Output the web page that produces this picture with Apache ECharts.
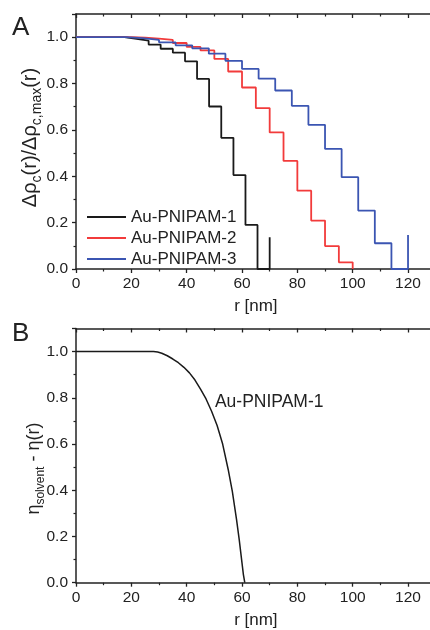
<!DOCTYPE html>
<html>
<head>
<meta charset="utf-8">
<script src="https://cdn.jsdelivr.net/npm/echarts@6/dist/echarts.min.js"></script>
<style>
  html, body { margin: 0; padding: 0; background: #fff; }
  #main { width: 430px; height: 630px; }
</style>
</head>
<body>
<div id="main"></div>
<script>
// panel A: step profiles, r [nm] where each step starts
var r1 = [0, 17.5, 21.9, 26.25, 30.6, 35, 39.4, 43.75, 48.1, 52.5, 56.9, 61.25, 65.6, 70];
var rho1 = [1.0, 0.993, 0.985, 0.968, 0.950, 0.933, 0.896, 0.820, 0.701, 0.566, 0.405, 0.190, 0, 0.137];

var r2 = [0, 20, 25, 30, 35, 40, 45, 50, 55, 60, 65, 70, 75, 80, 85, 90, 95, 100];
var rho2 = [1.0, 0.998, 0.994, 0.988, 0.975, 0.958, 0.943, 0.906, 0.852, 0.783, 0.694, 0.589, 0.466, 0.338, 0.209, 0.099, 0.029, 0];

var r3 = [0, 18, 24, 30, 36, 42, 48, 54, 60, 66, 72, 78, 84, 90, 96, 102, 108, 114, 120];
var rho3 = [1.0, 0.996, 0.988, 0.978, 0.965, 0.952, 0.929, 0.898, 0.863, 0.821, 0.770, 0.704, 0.622, 0.518, 0.396, 0.252, 0.111, 0, 0.147];

var seriesNames = ['Au-PNIPAM-1', 'Au-PNIPAM-2', 'Au-PNIPAM-3'];
var seriesColors = ['#1a1a1a', '#f23b3b', '#3b55b2'];

// panel B: smooth profile
var rB = [0, 28, 29.5, 31, 33, 35, 37, 39, 41, 43, 45, 47, 49, 51, 53, 55, 56.5, 58, 59, 60, 60.5, 61];
var etaB = [1.0, 1.0, 0.998, 0.993, 0.982, 0.968, 0.952, 0.932, 0.908, 0.877, 0.838, 0.795, 0.742, 0.680, 0.600, 0.490, 0.395, 0.275, 0.185, 0.085, 0.035, 0];

function zip(xs, ys) {
  var out = [];
  for (var i = 0; i < xs.length; i++) out.push([xs[i], ys[i]]);
  return out;
}

var font = 'Liberation Sans, Arial, sans-serif';
var ink = '#222';

function xAx(grid, top) {
  return {
    type: 'value', gridIndex: grid, position: top ? 'top' : 'bottom',
    min: 0, max: 130, interval: 20,
    name: top ? '' : 'r [nm]', nameLocation: 'middle', nameGap: 29, nameMoveOverlap: false,
    nameTextStyle: { fontSize: 17, color: ink, fontFamily: font },
    axisLine: { onZero: false, lineStyle: { color: ink, width: 1.5 } },
    axisTick: { inside: top, length: 4, lineStyle: { color: ink, width: 1.3 } },
    minorTick: { show: true, splitNumber: 2, length: 2.5, lineStyle: { color: ink, width: 1.2 } },
    axisLabel: { show: !top, fontSize: 15.5, color: ink, fontFamily: font, margin: 7, showMaxLabel: false },
    splitLine: { show: false }
  };
}

function yAx(grid, right, name, fs, sfs, gap, pad) {
  return {
    type: 'value', gridIndex: grid, position: right ? 'right' : 'left',
    min: 0, max: 1.1, interval: 0.2,
    name: right ? '' : name, nameLocation: 'middle', nameGap: gap, nameRotate: 90,
    nameMoveOverlap: false,
    nameTextStyle: {
      fontSize: fs, color: ink, fontFamily: font, lineHeight: fs + 7, padding: pad,
      rich: {
        b: { fontSize: fs, color: ink, fontFamily: font, lineHeight: fs + 7 },
        s: { fontSize: sfs, color: ink, fontFamily: font, lineHeight: fs + 7, verticalAlign: 'bottom' }
      }
    },
    axisLine: { onZero: false, lineStyle: { color: ink, width: 1.5 } },
    axisTick: { inside: right, length: 4, lineStyle: { color: ink, width: 1.3 } },
    minorTick: { show: true, splitNumber: 2, length: 2.5, lineStyle: { color: ink, width: 1.2 } },
    axisLabel: {
      show: !right, fontSize: 15.5, color: ink, fontFamily: font, margin: 8, showMaxLabel: false,
      formatter: function (v) { return v.toFixed(1); }
    },
    splitLine: { show: false }
  };
}

var stepData = [zip(r1, rho1), zip(r2, rho2), zip(r3, rho3)];
var series = stepData.map(function (d, i) {
  return {
    name: seriesNames[i], type: 'line', step: 'end', data: d,
    xAxisIndex: 0, yAxisIndex: 0, symbol: 'none',
    lineStyle: { color: seriesColors[i], width: 1.8 },
    itemStyle: { color: seriesColors[i] }
  };
});

series.push({
  name: 'B', type: 'line', data: zip(rB, etaB), xAxisIndex: 2, yAxisIndex: 2,
  symbol: 'none',
  lineStyle: { color: '#1a1a1a', width: 1.5 },
  markPoint: {
    symbol: 'circle', symbolSize: 0,
    label: { show: true, position: 'right', distance: 0, formatter: 'Au-PNIPAM-1',
             fontSize: 17.5, color: ink, fontFamily: font },
    data: [{ coord: [50.2, 0.78] }]
  }
});

// 130 nm of axis at ~2.767 px/nm, right end runs past the page edge
var plotW = 359.7;

var chart = echarts.init(document.getElementById('main'), null, { renderer: 'canvas' });
chart.setOption({
  animation: false,
  grid: [
    { left: 76, width: plotW, top: 14, height: 255, outerBoundsMode: 'none', containLabel: false },
    { left: 76, width: plotW, top: 328.5, height: 254.2, outerBoundsMode: 'none', containLabel: false }
  ],
  xAxis: [xAx(0, false), xAx(0, true), xAx(1, false), xAx(1, true)],
  yAxis: [
    yAx(0, false, '{b|Δρ}{s|c}{b|(r)/Δρ}{s|c,max}{b|(r)}', 20, 14, 32, [0, 0, 0, 8]),
    yAx(0, true),
    yAx(1, false, '{b|η}{s|solvent}{b| - η(r)}', 18, 12, 29, [0, 26, 0, 0]),
    yAx(1, true)
  ],
  legend: {
    data: seriesNames, orient: 'vertical', left: 82, top: 203.5,
    icon: 'rect', itemWidth: 39, itemHeight: 2, itemGap: 4,
    textStyle: { fontSize: 17, color: ink, fontFamily: font, lineHeight: 17 }
  },
  graphic: [
    { type: 'text', left: 12, top: 15, style: { text: 'A', fontSize: 26, fill: ink, fontFamily: font } },
    { type: 'text', left: 12, top: 321, style: { text: 'B', fontSize: 26, fill: ink, fontFamily: font } }
  ],
  series: series
});
</script>
</body>
</html>
